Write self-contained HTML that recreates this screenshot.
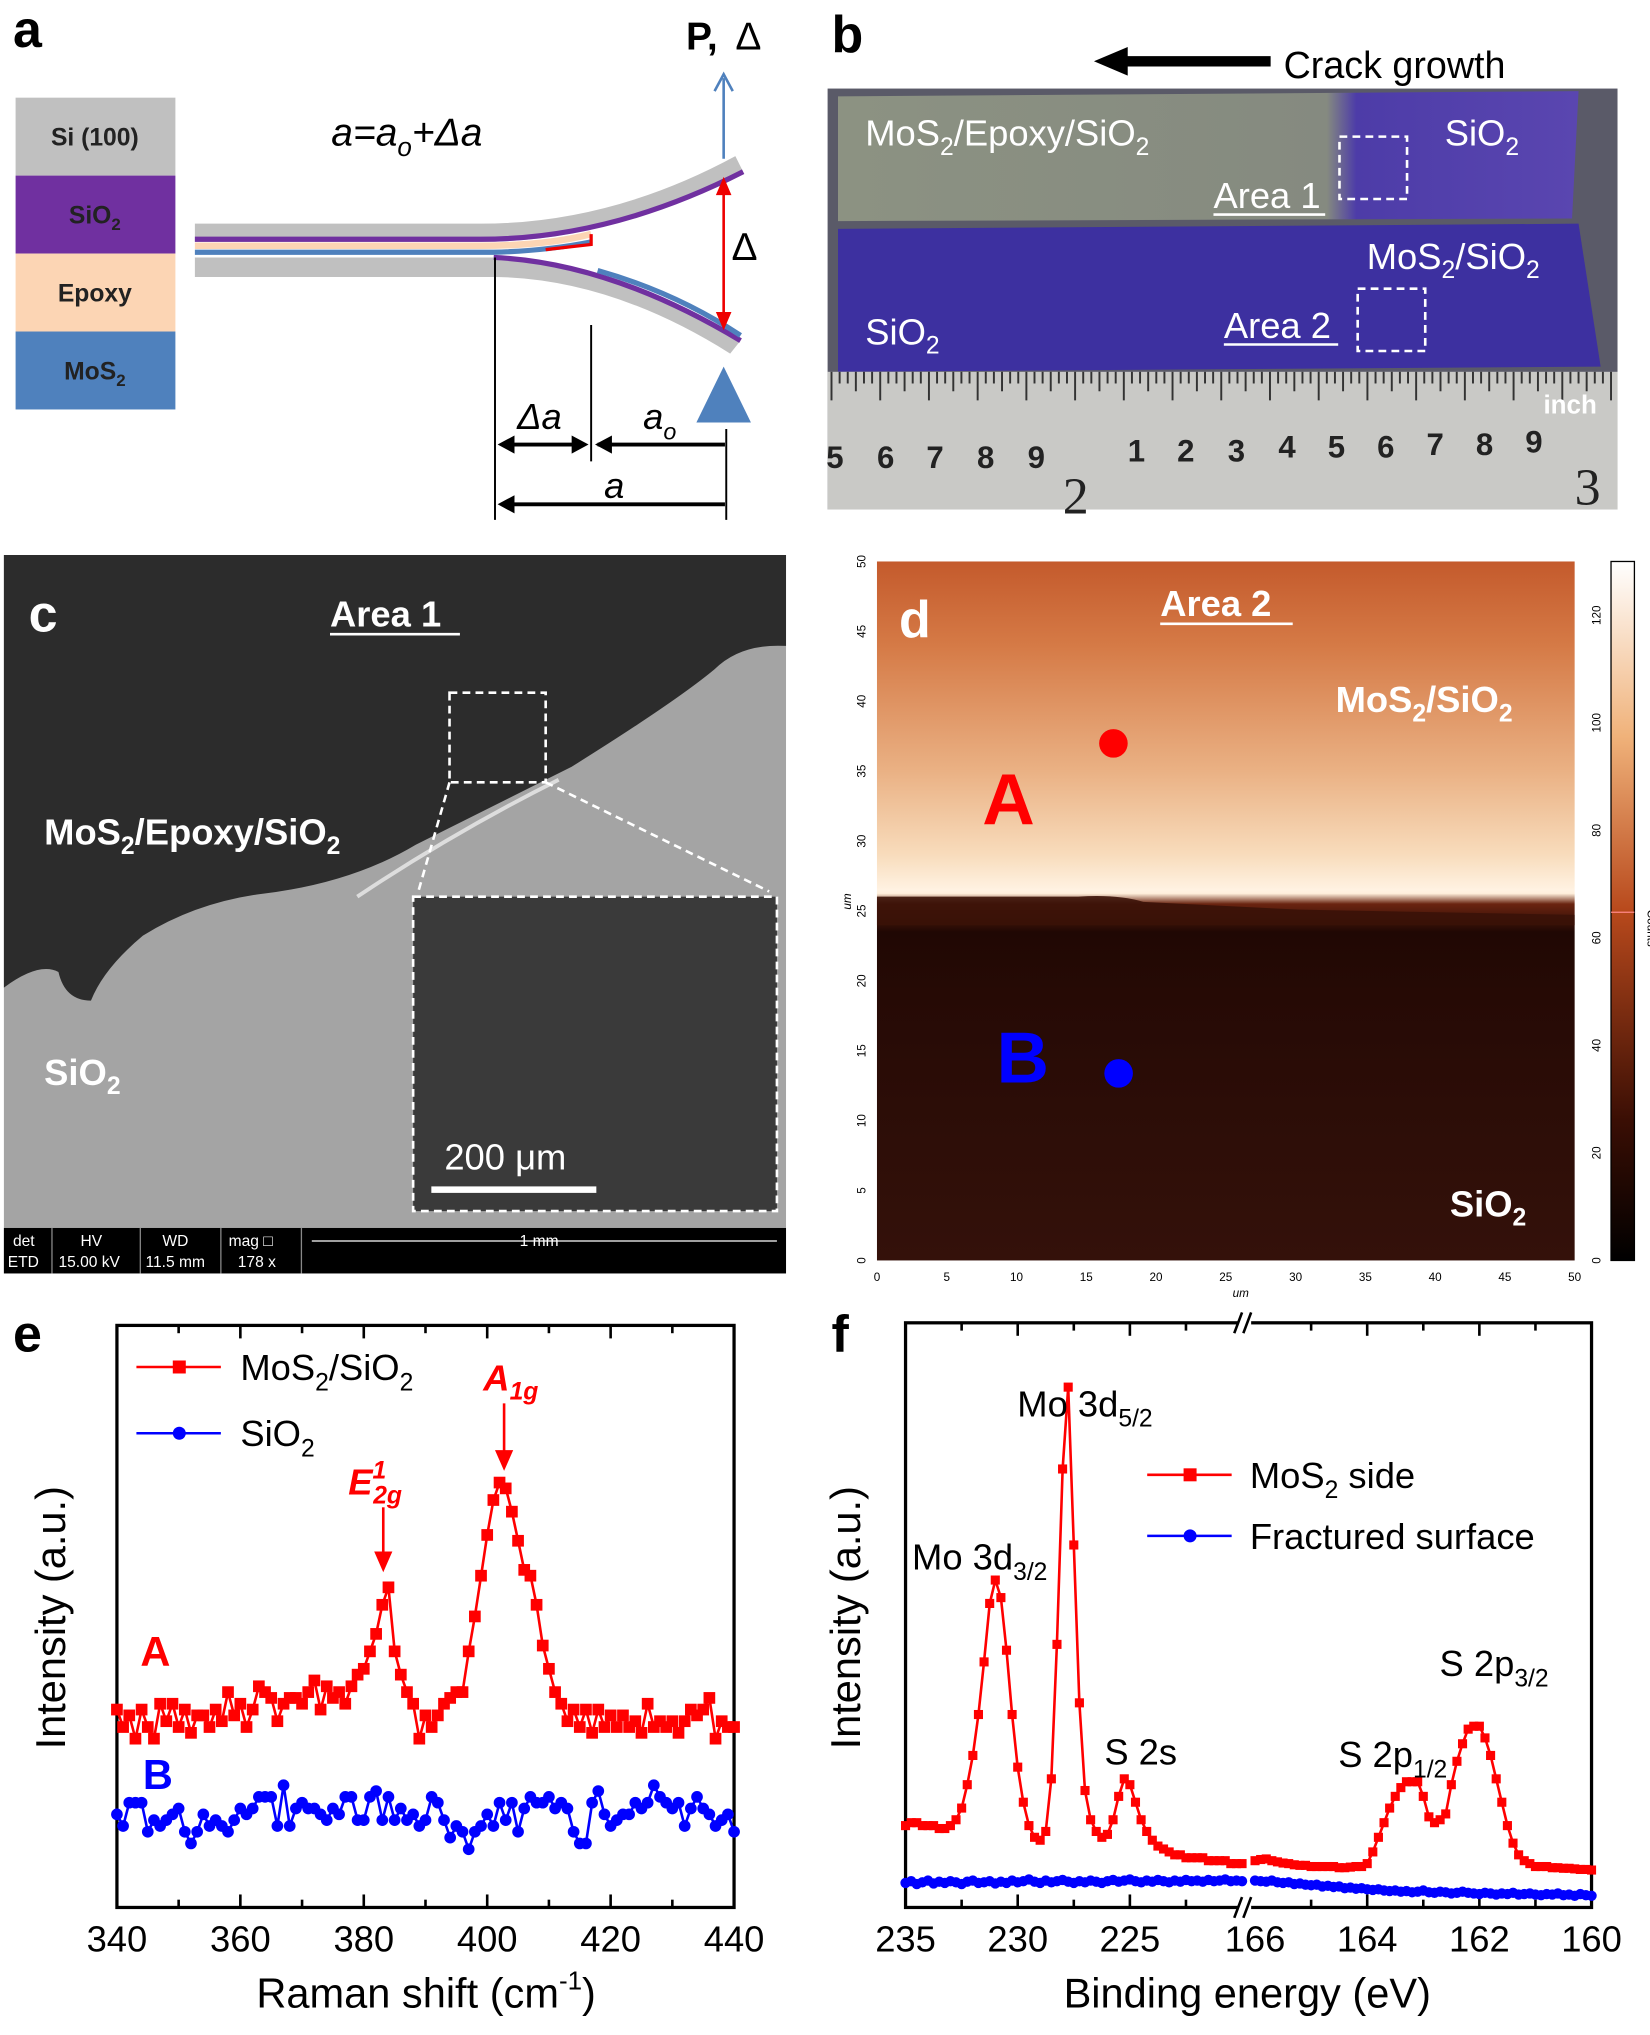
<!DOCTYPE html>
<html><head><meta charset="utf-8"><style>
html,body{margin:0;padding:0;background:#fff;}
svg{display:block;font-family:"Liberation Sans",Arial,sans-serif;}
</style></head><body>
<svg id="fig" width="1650" height="2035" viewBox="0 0 1270 1566" xmlns="http://www.w3.org/2000/svg">
<defs>
<linearGradient id="mapg" x1="0" y1="0" x2="0" y2="1">
<stop offset="0" stop-color="#c45a2c"/><stop offset="0.12" stop-color="#d57a46"/><stop offset="0.3" stop-color="#eab184"/><stop offset="0.42" stop-color="#f8dcbc"/><stop offset="0.47" stop-color="#fff2e2"/><stop offset="0.475" stop-color="#fff0dc"/><stop offset="0.49" stop-color="#6a2410"/><stop offset="0.53" stop-color="#200804"/><stop offset="0.62" stop-color="#260a05"/><stop offset="1" stop-color="#34110a"/>
</linearGradient>
<linearGradient id="cbar" x1="0" y1="0" x2="0" y2="1">
<stop offset="0" stop-color="#ffffff"/><stop offset="0.25" stop-color="#f0b27a"/><stop offset="0.5" stop-color="#b8491c"/><stop offset="0.8" stop-color="#3a0e04"/><stop offset="1" stop-color="#000"/>
</linearGradient>
<linearGradient id="up" x1="0" y1="0" x2="1" y2="0">
<stop offset="0" stop-color="#8c9282"/><stop offset="0.66" stop-color="#858a80"/><stop offset="0.7" stop-color="#4d3ca8"/><stop offset="1" stop-color="#5a46b0"/>
</linearGradient>
</defs>

<!-- ===== Panel a ===== -->
<g>
<text x="10" y="36" font-size="40" font-weight="bold">a</text>
<rect x="12" y="75" width="123" height="60" fill="#c0c0c0"/>
<rect x="12" y="135" width="123" height="60" fill="#7030a0"/>
<rect x="12" y="195" width="123" height="60" fill="#fcd5b4"/>
<rect x="12" y="255" width="123" height="60" fill="#4f81bd"/>
<text x="73" y="112" font-size="19" font-weight="bold" text-anchor="middle" fill="#222">Si (100)</text>
<text x="73" y="172" font-size="19" font-weight="bold" text-anchor="middle" fill="#222">SiO<tspan font-size="13" dy="5">2</tspan></text>
<text x="73" y="232" font-size="19" font-weight="bold" text-anchor="middle" fill="#222">Epoxy</text>
<text x="73" y="292" font-size="19" font-weight="bold" text-anchor="middle" fill="#222">MoS<tspan font-size="13" dy="5">2</tspan></text>
<path d="M150 172 L370 172 Q470 172 566 120 L572 132 Q470 186 370 186 L150 186 Z" fill="#c0c0c0"/>
<path d="M150 184 L370 184 Q470 184 572 132" stroke="#7030a0" stroke-width="4" fill="none"/>
<path d="M150 189 L370 189 Q420 189 455 180" stroke="#fcd5b4" stroke-width="5" fill="none"/>
<path d="M150 194 L380 194 Q420 193 455 186" stroke="#4f81bd" stroke-width="4" fill="none"/>
<path d="M150 198 L380 198 Q470 202 570 262 L562 272 Q470 214 380 213 L150 213 Z" fill="#c0c0c0"/>
<path d="M380 198 Q470 202 570 262" stroke="#7030a0" stroke-width="4" fill="none"/>
<path d="M460 208 Q520 225 570 258" stroke="#4f81bd" stroke-width="4" fill="none"/>
<path d="M455 180 L455 188 L420 192" stroke="#e00" stroke-width="2.5" fill="none"/>
<text x="255" y="112" font-size="30" font-style="italic">a=a<tspan font-size="20" dy="8">o</tspan><tspan dy="-8">+Δa</tspan></text>
<line x1="557" y1="122" x2="557" y2="60" stroke="#4f81bd" stroke-width="2"/>
<path d="M550 70 L557 57 L564 70" stroke="#4f81bd" stroke-width="2" fill="none"/>
<text x="528" y="38" font-size="30" font-weight="bold">P,</text>
<text x="566" y="38" font-size="30">Δ</text>
<line x1="557" y1="140" x2="557" y2="250" stroke="#e00" stroke-width="2"/>
<path d="M551 150 L557 136 L563 150 Z M551 240 L557 254 L563 240 Z" fill="#e00"/>
<text x="563" y="200" font-size="30">Δ</text>
<path d="M557 282 L578 325 L536 325 Z" fill="#4f81bd"/>
<line x1="381" y1="198" x2="381" y2="400" stroke="#000" stroke-width="1.5"/>
<line x1="455" y1="250" x2="455" y2="355" stroke="#000" stroke-width="1.5"/>
<line x1="559" y1="330" x2="559" y2="400" stroke="#000" stroke-width="1.5"/>
<line x1="386" y1="342" x2="450" y2="342" stroke="#000" stroke-width="3"/>
<path d="M383 342 L396 335 L396 349 Z M453 342 L440 335 L440 349 Z M458 342 L471 335 L471 349 Z" fill="#000"/>
<line x1="460" y1="342" x2="558" y2="342" stroke="#000" stroke-width="3"/>
<line x1="386" y1="388" x2="558" y2="388" stroke="#000" stroke-width="3"/>
<path d="M383 388 L396 381 L396 395 Z" fill="#000"/>
<text x="398" y="330" font-size="28" font-style="italic">Δa</text>
<text x="495" y="330" font-size="28" font-style="italic">a<tspan font-size="18" dy="8">o</tspan></text>
<text x="465" y="383" font-size="28" font-style="italic">a</text>
</g>

<!-- ===== Panel b ===== -->
<g>
<text x="640" y="40" font-size="40" font-weight="bold">b</text>
<path d="M842 47 L868 36 L868 43 L978 43 L978 51 L868 51 L868 58 Z" fill="#000"/>
<text x="988" y="60" font-size="29">Crack growth</text>
<rect x="637" y="68" width="608" height="324" fill="#5a5a68"/>
<path d="M645 74 L1215 70 L1210 168 L645 170 Z" fill="url(#up)"/>
<path d="M645 176 L1215 172 L1232 282 L645 286 Z" fill="#3d30a0"/>
<rect x="637" y="286" width="608" height="106" fill="#c9c9c6"/>
<g id="rulerTicks" stroke="#333" stroke-width="1.5"></g>
<g font-size="24" font-weight="bold" fill="#222">
<text x="636" y="360">5</text><text x="675" y="360">6</text><text x="713" y="360">7</text><text x="752" y="360">8</text><text x="791" y="360">9</text>
<text x="868" y="355">1</text><text x="906" y="355">2</text><text x="945" y="355">3</text><text x="984" y="352">4</text><text x="1022" y="352">5</text><text x="1060" y="352">6</text><text x="1098" y="350">7</text><text x="1136" y="350">8</text><text x="1174" y="348">9</text>
<text x="1212" y="388" font-size="40" font-weight="normal" font-family="Liberation Serif,serif">3</text>
<text x="818" y="395" font-size="40" font-weight="normal" font-family="Liberation Serif,serif">2</text>
<text x="1188" y="318" font-size="20" fill="#fff">inch</text>
</g>
<g font-size="28" fill="#fff">
<text x="666" y="112">MoS<tspan font-size="19" dy="7">2</tspan><tspan dy="-7">/Epoxy/SiO</tspan><tspan font-size="19" dy="7">2</tspan></text>
<text x="1112" y="112">SiO<tspan font-size="19" dy="7">2</tspan></text>
<text x="1052" y="207">MoS<tspan font-size="19" dy="7">2</tspan><tspan dy="-7">/SiO</tspan><tspan font-size="19" dy="7">2</tspan></text>
<text x="666" y="265">SiO<tspan font-size="19" dy="7">2</tspan></text>
<text x="934" y="160">Area 1</text><line x1="934" y1="165" x2="1020" y2="165" stroke="#fff" stroke-width="2"/>
<text x="942" y="260">Area 2</text><line x1="942" y1="265" x2="1030" y2="265" stroke="#fff" stroke-width="2"/>
</g>
<rect x="1031" y="105" width="52" height="48" fill="none" stroke="#fff" stroke-width="2" stroke-dasharray="6,4"/>
<rect x="1045" y="222" width="52" height="48" fill="none" stroke="#fff" stroke-width="2" stroke-dasharray="6,4"/>
</g>

<!-- ===== Panel c ===== -->
<g>
<rect x="3" y="427" width="602" height="553" fill="#a4a4a4"/>
<path d="M3 427 L605 427 L605 497 Q570 495 550 515 Q520 540 440 590 Q380 620 320 650 Q270 680 200 688 Q150 695 110 720 Q80 745 70 770 Q50 770 45 748 Q30 740 3 760 Z" fill="#2c2c2c"/>
<path d="M275 690 Q350 640 430 600" stroke="#ddd" stroke-width="3" fill="none"/>
<text x="22" y="486" font-size="40" font-weight="bold" fill="#fff">c</text>
<text x="254" y="482" font-size="28" font-weight="bold" fill="#fff">Area 1</text>
<line x1="254" y1="488" x2="354" y2="488" stroke="#fff" stroke-width="2"/>
<text x="34" y="650" font-size="28" font-weight="bold" fill="#fff">MoS<tspan font-size="19" dy="7">2</tspan><tspan dy="-7">/Epoxy/SiO</tspan><tspan font-size="19" dy="7">2</tspan></text>
<text x="34" y="835" font-size="28" font-weight="bold" fill="#fff">SiO<tspan font-size="19" dy="7">2</tspan></text>
<rect x="346" y="533" width="74" height="69" fill="none" stroke="#fff" stroke-width="2" stroke-dasharray="6,4"/>
<line x1="346" y1="602" x2="322" y2="686" stroke="#fff" stroke-width="2" stroke-dasharray="6,4"/>
<line x1="420" y1="602" x2="592" y2="686" stroke="#fff" stroke-width="2" stroke-dasharray="6,4"/>
<rect x="318" y="690" width="280" height="242" fill="#3a3a3a" stroke="#fff" stroke-width="2" stroke-dasharray="6,4"/>
<text x="342" y="900" font-size="28" fill="#fff">200 μm</text>
<rect x="332" y="913" width="127" height="5" fill="#fff"/>
<rect x="3" y="945" width="602" height="35" fill="#000"/>
<g font-size="12" fill="#fff">
<text x="10" y="959">det</text><text x="62" y="959">HV</text><text x="125" y="959">WD</text><text x="176" y="959">mag □</text>
<text x="6" y="975">ETD</text><text x="45" y="975">15.00 kV</text><text x="112" y="975">11.5 mm</text><text x="183" y="975">178 x</text>
<text x="400" y="959">1 mm</text>
</g>
<line x1="240" y1="955" x2="598" y2="955" stroke="#fff" stroke-width="1"/>
<g stroke="#888" stroke-width="1"><line x1="40" y1="945" x2="40" y2="980"/><line x1="108" y1="945" x2="108" y2="980"/><line x1="170" y1="945" x2="170" y2="980"/><line x1="232" y1="945" x2="232" y2="980"/></g>
</g>

<!-- ===== Panel d ===== -->
<g>
<rect x="675" y="432" width="537" height="538" fill="url(#mapg)"/>
<path d="M675 690 L830 690 Q860 688 880 694 L1000 700 L1212 704 L1212 712 L675 712 Z" fill="#3a1208" opacity="0.9"/>
<rect x="1240" y="432" width="18" height="538" fill="url(#cbar)" stroke="#000" stroke-width="1"/>
<line x1="1240" y1="702" x2="1258" y2="702" stroke="#f88" stroke-width="1"/>
<g id="dTicks" font-size="9" fill="#000"></g>
<text x="692" y="490" font-size="40" font-weight="bold" fill="#fff">d</text>
<text x="893" y="474" font-size="28" font-weight="bold" fill="#fff">Area 2</text>
<line x1="893" y1="480" x2="995" y2="480" stroke="#fff" stroke-width="2"/>
<text x="1028" y="548" font-size="28" font-weight="bold" fill="#fff">MoS<tspan font-size="19" dy="7">2</tspan><tspan dy="-7">/SiO</tspan><tspan font-size="19" dy="7">2</tspan></text>
<text x="1116" y="936" font-size="28" font-weight="bold" fill="#fff">SiO<tspan font-size="19" dy="7">2</tspan></text>
<circle cx="857" cy="572" r="11" fill="#f00"/>
<circle cx="861" cy="826" r="11" fill="#00f"/>
<text x="756" y="634" font-size="56" font-weight="bold" fill="#f00">A</text>
<text x="767" y="833" font-size="56" font-weight="bold" fill="#00f">B</text>
<text x="955" y="998" font-size="9" font-style="italic" text-anchor="middle">um</text>
<text x="655" y="700" font-size="9" font-style="italic" transform="rotate(-90 655 700)">um</text>
<text x="1268" y="700" font-size="9" transform="rotate(90 1268 700)">Counts</text>
</g>

<!-- ===== Panel e ===== -->
<g>
<text x="10" y="1040" font-size="40" font-weight="bold">e</text>
<rect x="90" y="1020" width="475" height="448" fill="none" stroke="#000" stroke-width="2.5"/>
<g id="eTicks"></g>
<g id="eSeries"></g>
<text x="328" y="1545" font-size="32" text-anchor="middle">Raman shift (cm<tspan font-size="20" dy="-14">-1</tspan><tspan dy="14">)</tspan></text>
<text x="0" y="0" font-size="32" text-anchor="middle" transform="translate(50 1245) rotate(-90)">Intensity (a.u.)</text>
<g>
<line x1="105" y1="1052" x2="170" y2="1052" stroke="#f00" stroke-width="2"/><rect x="133" y="1047" width="10" height="10" fill="#f00"/>
<text x="185" y="1062" font-size="28">MoS<tspan font-size="19" dy="8">2</tspan><tspan dy="-8">/SiO</tspan><tspan font-size="19" dy="8">2</tspan></text>
<line x1="105" y1="1103" x2="170" y2="1103" stroke="#00f" stroke-width="2"/><circle cx="138" cy="1103" r="5" fill="#00f"/>
<text x="185" y="1113" font-size="28">SiO<tspan font-size="19" dy="8">2</tspan></text>
</g>
<g fill="#f00" font-weight="bold" font-style="italic">
<text x="372" y="1070" font-size="28">A<tspan font-size="19" dy="7">1g</tspan></text>
<text x="268" y="1150" font-size="28">E<tspan font-size="19" dy="-12">1</tspan><tspan font-size="19" dx="-10" dy="19">2g</tspan></text>
</g>
<line x1="388" y1="1080" x2="388" y2="1118" stroke="#f00" stroke-width="2"/><path d="M381 1116 L388 1132 L395 1116 Z" fill="#f00"/>
<line x1="295" y1="1160" x2="295" y2="1196" stroke="#f00" stroke-width="2"/><path d="M288 1194 L295 1210 L302 1194 Z" fill="#f00"/>
<text x="108" y="1282" font-size="32" font-weight="bold" fill="#f00">A</text>
<text x="110" y="1377" font-size="32" font-weight="bold" fill="#00f">B</text>
</g>

<!-- ===== Panel f ===== -->
<g>
<text x="640" y="1040" font-size="40" font-weight="bold">f</text>
<rect x="697" y="1018" width="528" height="450" fill="none" stroke="#000" stroke-width="2.5"/>
<g id="fTicks"></g>
<g id="fSeries"></g>
<rect x="953" y="1010" width="10" height="16" fill="#fff"/><rect x="953" y="1460" width="10" height="16" fill="#fff"/>
<path d="M950 1026 L956 1010 M957 1026 L963 1010 M950 1476 L956 1460 M957 1476 L963 1460" stroke="#000" stroke-width="2"/>
<text x="960" y="1545" font-size="32" text-anchor="middle">Binding energy (eV)</text>
<text x="0" y="0" font-size="32" text-anchor="middle" transform="translate(662 1245) rotate(-90)">Intensity (a.u.)</text>
<g>
<line x1="883" y1="1135" x2="948" y2="1135" stroke="#f00" stroke-width="2"/><rect x="911" y="1130" width="10" height="10" fill="#f00"/>
<text x="962" y="1145" font-size="28">MoS<tspan font-size="19" dy="8">2</tspan><tspan dy="-8"> side</tspan></text>
<line x1="883" y1="1182" x2="948" y2="1182" stroke="#00f" stroke-width="2"/><circle cx="916" cy="1182" r="5" fill="#00f"/>
<text x="962" y="1192" font-size="28">Fractured surface</text>
</g>
<g font-size="28">
<text x="783" y="1090">Mo 3d<tspan font-size="19" dy="8">5/2</tspan></text>
<text x="702" y="1208">Mo 3d<tspan font-size="19" dy="8">3/2</tspan></text>
<text x="850" y="1358">S 2s</text>
<text x="1030" y="1360">S 2p<tspan font-size="19" dy="8">1/2</tspan></text>
<text x="1108" y="1290">S 2p<tspan font-size="19" dy="8">3/2</tspan></text>
</g>
</g>
</svg>

<script>
var NS="http://www.w3.org/2000/svg";
// ---------- Panel e data ----------
var eXStart=340, eXEnd=440;
var eXTicks=[340,360,380,400,420,440];
var eRed=[34,31,33,29,34,31,29,35,32,35,31,
34,30,33,33,31,34,32,37,33,35,
31,34,38,37,36,32,35,36,36,35,
37,39,34,38,36,37,35,38,40,41,
44,47,52,55,44,40,37,35,29,33,
31,33,35,36,37,37,44,50,57,64,
70,73,72,68,63,58,57,52,45,41,
37,35,32,34,31,34,30,34,31,33,
31,33,31,32,30,35,31,32,31,32,
30,32,34,33,34,36,29,32,31,31];
var eBlue=[16,14,18,18,18,13,15,14,15,16,17,13,11,13,16,14,15,14,13,15,
17,16,17,19,19,19,14,21,14,17,18,17,17,16,15,17,16,19,19,15,
15,19,20,15,19,15,17,15,16,14,15,19,18,15,12,14,13,10,13,14,
16,14,18,15,18,13,17,19,18,18,19,17,18,17,13,11,11,18,20,16,
14,15,16,16,18,17,18,21,19,18,17,18,14,17,19,17,16,14,15,16,13];
// ---------- Panel f data ----------
var fXTickLeft=[235,230,225];
var fXTickRight=[166,164,162,160];
var fLeftStart=235, fLeftStep=0.25;
var fRightStart=166, fRightStep=0.1;
var fRedLeft=[14,14.5,14.5,14,14,14,13.5,13.5,14,
15,17,21,26,
33,42,52,56,53,44,33,24,18,14,12,11.5,
13,22,45,75,89,62,35,20,15,13,12,12.5,
15,19,22,21,18,15,13,11.5,10.5,10,9.5,9,
9,8.5,8.5,8.5,8.5,8,8,8,8,7.5,7.5,7.5];
var fRedRight=[8,8.2,8.3,8,7.8,7.6,7.5,7.3,7.2,7.2,7,7,7,7,7,6.8,6.8,6.9,7,7,
7.5,9.5,12,14.5,17,19,20.5,21.5,21.5,21.5,19,15.5,14.5,15,16,21,25,28,30.5,31,31,29,26,22,18,14,11,9,8,7.5,7,
7,7,6.8,6.8,6.7,6.7,6.6,6.5,6.5,6.4];
var fBlueLeft=[4.2,4.5,4,4.3,4.6,4.1,4.4,4.2,4.5,4.3,4,4.4,4.6,4.2,4.3,4.5,4.1,4.4,4.2,4.6,
4.3,4.5,4.8,4.4,4.2,4.6,4.3,4.5,4.7,4.4,4.2,4.5,4.3,4.6,4.4,4.2,4.5,4.7,4.4,4.6,
4.8,4.5,4.3,4.6,4.4,4.7,4.5,4.3,4.6,4.4,4.7,4.5,4.6,4.4,4.7,4.5,4.6,4.8,4.5,4.6,4.5];
var fBlueRight=[4.6,4.5,4.4,4.6,4.3,4.2,4.3,4,4.1,3.9,3.8,3.9,3.6,3.7,3.5,3.6,3.3,3.4,3.2,3.3,
3.1,3.0,3.1,2.9,2.8,2.9,2.7,2.8,2.6,2.7,2.9,2.6,2.5,2.7,2.6,2.4,2.5,2.7,2.5,2.4,
2.3,2.5,2.4,2.2,2.4,2.3,2.5,2.2,2.3,2.4,2.2,2.1,2.3,2.2,2.4,2.1,2.2,2.0,2.3,2.1,2.0];

function mk(tag,attrs,parent){var e=document.createElementNS(NS,tag);for(var k in attrs)e.setAttribute(k,attrs[k]);parent.appendChild(e);return e;}

function exS(v){return 90+(v-eXStart)/(eXEnd-eXStart)*475;}
function eyS(v){return 1468-v*4.48;}
function fxL(v){return 697+(235-v)*(956-697)/15;}
function fxR(v){return 966+(166-v)*(1225-966)/6;}
function fyS(v){return 1468-v*4.5;}

var et=document.getElementById('eTicks');
for(var t=340;t<=440;t+=10){var X=exS(t);var L=(t%20===0)?10:6;
mk('line',{x1:X,y1:1468,x2:X,y2:1468-L,stroke:'#000','stroke-width':2},et);
mk('line',{x1:X,y1:1020,x2:X,y2:1020+L,stroke:'#000','stroke-width':2},et);}
eXTicks.forEach(function(t){var tx=mk('text',{x:exS(t),y:1502,'font-size':28,'text-anchor':'middle'},et);tx.textContent=t;

});

function series(g,xs,ys,xf,yf,color,marker,size,name){
var d='';for(var i=0;i<ys.length;i++){d+=(i?'L':'M')+xf(xs[i]).toFixed(1)+' '+yf(ys[i]).toFixed(1);}
var p=mk('path',{d:d,stroke:color,'stroke-width':2,fill:'none'},g);


for(var i=0;i<ys.length;i++){var X=xf(xs[i]),Y=yf(ys[i]);var m;
if(marker==='sq'){m=mk('rect',{x:X-size/2,y:Y-size/2,width:size,height:size,fill:color},g);}
else{m=mk('circle',{cx:X,cy:Y,r:size/2,fill:color},g);}

}}

var eg=document.getElementById('eSeries');
var exR=eRed.map(function(_,i){return eXStart+i*(eXEnd-eXStart)/(eRed.length-1);});
var exB=eBlue.map(function(_,i){return eXStart+i*(eXEnd-eXStart)/(eBlue.length-1);});
series(eg,exB,eBlue,exS,eyS,'#00f','c',9,'sio2-series');
series(eg,exR,eRed,exS,eyS,'#f00','sq',9,'mos2-sio2-series');

var ft=document.getElementById('fTicks');
for(var t=235;t>=222.5;t-=2.5){var X=fxL(t);var L=(t%5===0)?10:6;
mk('line',{x1:X,y1:1468,x2:X,y2:1468-L,stroke:'#000','stroke-width':2},ft);
mk('line',{x1:X,y1:1018,x2:X,y2:1018+L,stroke:'#000','stroke-width':2},ft);}
for(var t=165;t>=160;t-=1){var X=fxR(t);var L=(t%2===0)?10:6;
mk('line',{x1:X,y1:1468,x2:X,y2:1468-L,stroke:'#000','stroke-width':2},ft);
mk('line',{x1:X,y1:1018,x2:X,y2:1018+L,stroke:'#000','stroke-width':2},ft);}
fXTickLeft.forEach(function(t){var tx=mk('text',{x:fxL(t),y:1502,'font-size':28,'text-anchor':'middle'},ft);tx.textContent=t;

});
fXTickRight.forEach(function(t){var tx=mk('text',{x:fxR(t),y:1502,'font-size':28,'text-anchor':'middle'},ft);tx.textContent=t;

});

var fg=document.getElementById('fSeries');
function xsL(arr){return arr.map(function(_,i){return fLeftStart-i*fLeftStep;});}
function xsR(arr){return arr.map(function(_,i){return fRightStart-i*fRightStep;});}
series(fg,xsL(fBlueLeft),fBlueLeft,fxL,fyS,'#00f','c',8,'fractured-surface-series');
series(fg,xsR(fBlueRight),fBlueRight,fxR,fyS,'#00f','c',8,'fractured-surface-series');
series(fg,xsL(fRedLeft),fRedLeft,fxL,fyS,'#f00','sq',7,'mos2-side-series');
series(fg,xsR(fRedRight),fRedRight,fxR,fyS,'#f00','sq',7,'mos2-side-series');

var rt=document.getElementById('rulerTicks');
for(var i=0;i<=96;i++){var X=640+i*6.25;var L=(i%6===0)?22:(i%3===0?15:9);
mk('line',{x1:X,y1:286,x2:X,y2:286+L},rt);}
var dt=document.getElementById('dTicks');
for(var v=0;v<=50;v+=5){var X=675+v*537/50;var Y=970-v*538/50;
var a=mk('text',{x:X,y:986,'text-anchor':'middle'},dt);a.textContent=v;
var b=mk('text',{x:0,y:0,'text-anchor':'middle',transform:'translate(666 '+Y+') rotate(-90)'},dt);b.textContent=v;}
for(var v=0;v<=120;v+=20){var Y=970-v*538/130;
var c=mk('text',{x:0,y:0,'text-anchor':'middle',transform:'translate(1232 '+Y+') rotate(-90)'},dt);c.textContent=v;}
</script>
</body></html>
